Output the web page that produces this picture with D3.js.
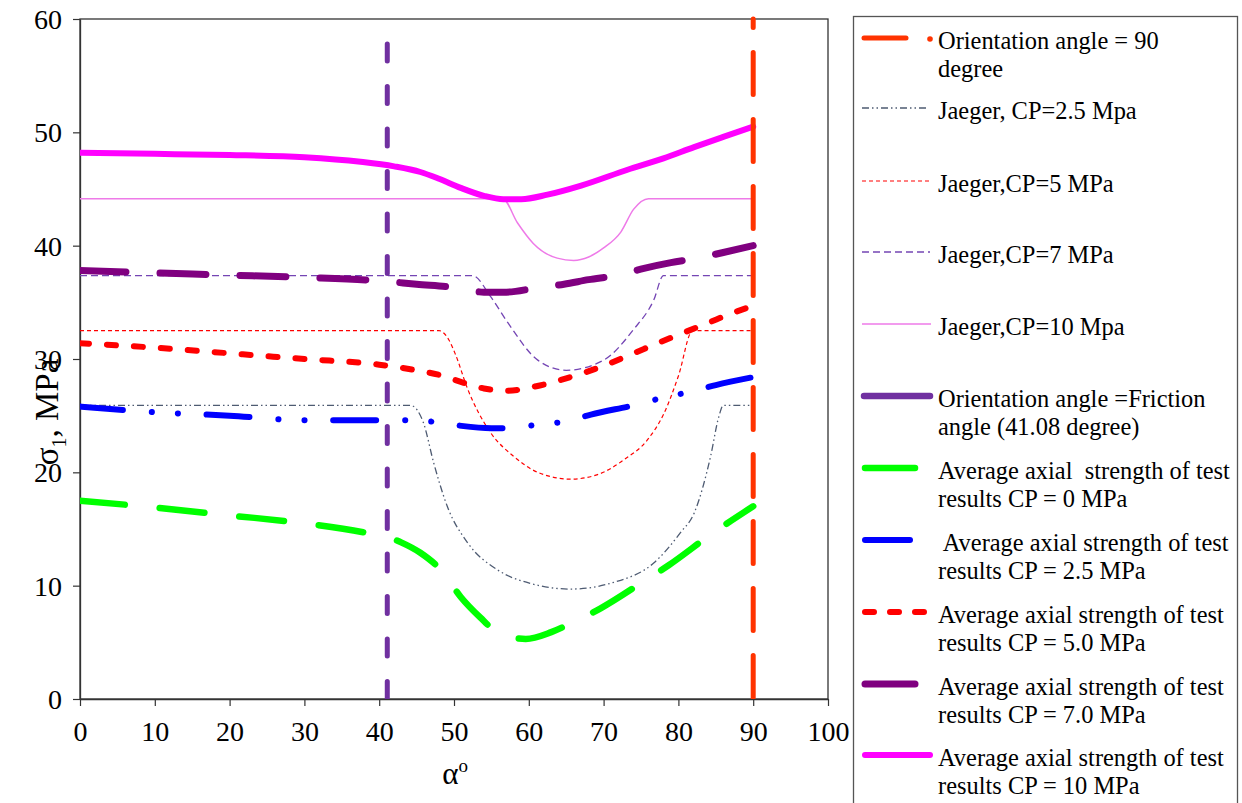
<!DOCTYPE html>
<html>
<head>
<meta charset="utf-8">
<script src="https://cdn.jsdelivr.net/npm/d3@7/dist/d3.min.js"></script>
<style>
  body { margin: 0; background: #fff; }
  svg { display: block; font-family: "Liberation Serif", "Times New Roman", serif; }
  .leg { font-size: 26px; white-space: pre; }
</style>
</head>
<body>
<div id="chart"></div>
<script>
'use strict';

// axis ticks
var xTickValues = [0, 10, 20, 30, 40, 50, 60, 70, 80, 90, 100];
var yTickValues = [0, 10, 20, 30, 40, 50, 60];

// vertical reference lines (degree)
var frictionAngle = 41.08;
var orientationAngle = 90;

// average axial strength of test results  [alpha, sigma1]
var avgCP0 = [[0,17.5],[10,16.9],[20,16.2],[30,15.5],[38,14.7],[41,14.3],[43,13.8],[45.5,12.9],[48.5,11.2],[50.9,9.0],[53.5,7.2],[55.8,5.9],[59.6,5.3],[63,5.9],[66,6.8],[69.6,8.0],[75.4,10.4],[78.7,11.8],[84.3,14.5],[90,17.0]];
var avgCP25 = [[0,25.8],[10,25.3],[20,25.0],[30,24.6],[40,24.6],[44,24.6],[48,24.4],[51,24.1],[55,23.9],[58,23.9],[61,24.2],[65,24.5],[68.3,25.1],[74.6,26.0],[78,26.6],[81.5,27.1],[85,27.7],[90,28.4]];
var avgCP5 = [[0,31.4],[10,31.0],[20,30.5],[30,30.0],[40,29.5],[45,29.0],[48,28.6],[51.3,27.9],[54,27.4],[57,27.2],[61,27.6],[65,28.3],[70,29.4],[74,30.5],[77.6,31.5],[81,32.4],[84,33.2],[87.4,34.1],[90,34.7]];
var avgCP7 = [[0,37.8],[10,37.6],[20,37.4],[30,37.2],[40,36.9],[45,36.6],[50.2,36.3],[54,35.9],[57,35.9],[61.2,36.3],[64.7,36.6],[68,37.0],[71.9,37.4],[75.4,38.0],[79,38.5],[82.6,38.9],[86,39.4],[90,40.0]];
var avgCP10 = [[0,48.2],[10,48.1],[20,48.0],[30,47.8],[37.5,47.4],[42,47.0],[45.5,46.5],[48,45.9],[50.9,45.1],[54,44.4],[56.6,44.1],[59,44.1],[62.5,44.5],[67,45.3],[73.2,46.7],[78,47.7],[82.1,48.7],[86,49.6],[90,50.5]];

// Jaeger single plane of weakness  [alpha, sigma1]
var jaegerCP25 = [[0,25.9],[44.2,25.9],[45.9,24.4],[47.3,20.8],[49.1,17.0],[51.8,13.8],[55.8,11.4],[60.2,10.2],[65.6,9.7],[71.4,10.3],[76.7,12.0],[80.3,14.7],[82.1,16.4],[84.3,21.4],[85.4,24.9],[86,25.9],[90,25.9]];
var jaegerCP5 = [[0,32.5],[48,32.5],[49.3,31.7],[50.2,30.4],[51.8,27.4],[54.9,23.5],[58,21.4],[61.2,20.0],[65.6,19.4],[69.2,19.8],[72.7,21.1],[75.9,22.9],[78,25.1],[80,28.5],[81.9,32.5],[90,32.5]];
var jaegerCP7 = [[0,37.35],[52.5,37.35],[54.9,35.5],[57.2,33.2],[61.2,29.9],[65,29.0],[70,29.9],[74,32.6],[76.7,35.2],[78,37.35],[90,37.35]];
var jaegerCP10 = [[0,44.15],[56.5,44.15],[58.5,42.0],[60.6,40.2],[63.8,38.9],[66,38.7],[68,39.0],[70,39.8],[72.3,41.2],[74,43.2],[76,44.15],[90,44.15]];

var width = 1242, height = 803;
var plot = {left: 80, top: 19, right: 828, bottom: 699};

var svg = d3.select('#chart').append('svg')
  .attr('width', width)
  .attr('height', height);

var x = d3.scaleLinear().domain([0, 100]).range([plot.left, plot.right]);
var y = d3.scaleLinear().domain([0, 60]).range([plot.bottom, plot.top]);

svg.append('clipPath').attr('id', 'clip')
  .append('rect')
  .attr('x', plot.left).attr('y', plot.top - 4)
  .attr('width', plot.right - plot.left).attr('height', plot.bottom - plot.top + 4);

// plot frame
svg.append('rect')
  .attr('x', plot.left).attr('y', plot.top)
  .attr('width', plot.right - plot.left).attr('height', plot.bottom - plot.top)
  .attr('fill', 'none').attr('stroke', '#333').attr('stroke-width', 1.3);

var xAxis = svg.append('g')
  .attr('transform', 'translate(0,' + plot.bottom + ')')
  .call(d3.axisBottom(x).tickValues(xTickValues).tickSize(7).tickSizeOuter(0).tickPadding(15));
var yAxis = svg.append('g')
  .attr('transform', 'translate(' + plot.left + ',0)')
  .call(d3.axisLeft(y).tickValues(yTickValues).tickSize(7).tickSizeOuter(0).tickPadding(11));
[xAxis, yAxis].forEach(function (a) {
  a.attr('font-family', null).attr('font-size', null);
  a.select('.domain').attr('stroke', '#333').attr('stroke-width', 1.3);
  a.selectAll('.tick line').attr('stroke', '#333').attr('stroke-width', 1.2);
  a.selectAll('.tick text')
    .style('font-family', '"Liberation Serif", serif')
    .style('font-size', '28px')
    .attr('fill', '#000');
});
yAxis.selectAll('.tick text').attr('dy', '0.34em');

var line = d3.line()
  .x(function (d) { return x(d[0]); })
  .y(function (d) { return y(d[1]); })
  .curve(d3.curveMonotoneX);

var series = [
  {data: jaegerCP25, color: '#4E5B72', w: 1.3, dash: '7,3,1.5,3,1.5,3', cap: 'butt'},
  {data: jaegerCP5, color: '#FF0000', w: 1.2, dash: '4,3', cap: 'butt'},
  {data: jaegerCP7, color: '#7445B4', w: 1.3, dash: '7,4', cap: 'butt'},
  {data: jaegerCP10, color: '#EE7AE8', w: 1.5, dash: null, cap: 'butt'},
  {data: avgCP0, color: '#00FF00', w: 6.5, dash: '45,35', cap: 'round'},
  {data: avgCP25, color: '#0000FF', w: 6, dash: '43,29,0.1,26,0.1,28.6', cap: 'round'},
  {data: avgCP5, color: '#FF0000', w: 6, dash: '9,18', cap: 'round'},
  {data: avgCP7, color: '#800080', w: 7, dash: '46,34', cap: 'round'},
  {data: avgCP10, color: '#FF00FF', w: 6, dash: null, cap: 'round'}
];

var g = svg.append('g').attr('clip-path', 'url(#clip)');

g.selectAll('path.series')
  .data(series)
  .enter().append('path')
  .attr('class', 'series')
  .attr('d', function (d) { return line(d.data); })
  .attr('fill', 'none')
  .attr('stroke', function (d) { return d.color; })
  .attr('stroke-width', function (d) { return d.w; })
  .attr('stroke-dasharray', function (d) { return d.dash; })
  .attr('stroke-linecap', function (d) { return d.cap; })
  .attr('stroke-linejoin', 'round');

// vertical lines at friction angle and 90 degree
var vlines = [
  {a: frictionAngle, color: '#7030A0', dash: '17,25.5', offset: 17.5},
  {a: orientationAngle, color: '#FF3300', dash: '42,25', offset: 33.5}
];
g.selectAll('line.vline')
  .data(vlines)
  .enter().append('line')
  .attr('class', 'vline')
  .attr('x1', function (d) { return x(d.a); })
  .attr('x2', function (d) { return x(d.a); })
  .attr('y1', y(60)).attr('y2', y(0))
  .attr('stroke', function (d) { return d.color; })
  .attr('stroke-width', 5)
  .attr('stroke-linecap', 'round')
  .attr('stroke-dasharray', function (d) { return d.dash; })
  .attr('stroke-dashoffset', function (d) { return d.offset; });

// axis titles
svg.append('text')
  .attr('x', 455).attr('y', 784)
  .attr('text-anchor', 'middle')
  .style('font-size', '31px')
  .html('α<tspan dy="-12" font-size="19px">o</tspan>');

svg.append('text')
  .attr('transform', 'translate(58,412) rotate(-90)')
  .attr('text-anchor', 'middle')
  .style('font-size', '33px')
  .html('σ<tspan dy="8" font-size="20px">1</tspan><tspan dy="-8">, MPa</tspan>');

// legend
var legX = 853.5, legTextX = 938;
svg.append('rect')
  .attr('x', legX).attr('y', 16.5)
  .attr('width', 384).attr('height', 800)
  .attr('fill', '#fff').attr('stroke', '#555').attr('stroke-width', 1.3);

var legendItems = [
  {y: 40, lines: ['Orientation angle = 90', 'degree'], color: '#FF3300', w: 5, x1: 864, x2: 906, dash: null, cap: 'round', dot: true},
  {y: 110, lines: ['Jaeger, CP=2.5 Mpa'], color: '#4E5B72', w: 1.3, x1: 862, x2: 928, dash: '7,3,1.5,3,1.5,3', cap: 'butt'},
  {y: 183, lines: ['Jaeger,CP=5 MPa'], color: '#FF0000', w: 1.2, x1: 862, x2: 930, dash: '4,3', cap: 'butt'},
  {y: 254, lines: ['Jaeger,CP=7 MPa'], color: '#7445B4', w: 1.3, x1: 862, x2: 930, dash: '7,4', cap: 'butt'},
  {y: 326, lines: ['Jaeger,CP=10 Mpa'], color: '#EE7AE8', w: 1.5, x1: 862, x2: 931, dash: null, cap: 'butt'},
  {y: 398, lines: ['Orientation angle =Friction', 'angle (41.08 degree)'], color: '#7030A0', w: 6.5, x1: 864, x2: 930, dash: null, cap: 'round'},
  {y: 470, lines: ['Average axial  strength of test', 'results CP = 0 MPa'], color: '#00FF00', w: 6.5, x1: 865, x2: 915, dash: null, cap: 'round'},
  {y: 542, lines: [' Average axial strength of test', 'results CP = 2.5 MPa'], color: '#0000FF', w: 6, x1: 865, x2: 910, dash: null, cap: 'round'},
  {y: 614, lines: ['Average axial strength of test', 'results CP = 5.0 MPa'], color: '#FF0000', w: 6, x1: 865, x2: 930, dash: '9,16', cap: 'round'},
  {y: 686, lines: ['Average axial strength of test', 'results CP = 7.0 MPa'], color: '#800080', w: 7, x1: 865, x2: 915, dash: null, cap: 'round'},
  {y: 757, lines: ['Average axial strength of test', 'results CP = 10 MPa'], color: '#FF00FF', w: 6, x1: 865, x2: 930, dash: null, cap: 'round'}
];

var leg = svg.selectAll('g.legItem')
  .data(legendItems)
  .enter().append('g')
  .attr('class', 'legItem');

leg.append('line')
  .attr('x1', function (d) { return d.x1; })
  .attr('x2', function (d) { return d.x2; })
  .attr('y1', function (d) { return d.y - 2; })
  .attr('y2', function (d) { return d.y - 2; })
  .attr('stroke', function (d) { return d.color; })
  .attr('stroke-width', function (d) { return d.w; })
  .attr('stroke-linecap', function (d) { return d.cap; })
  .attr('stroke-dasharray', function (d) { return d.dash; });

leg.filter(function (d) { return d.dot; })
  .append('circle')
  .attr('cx', 930).attr('cy', function (d) { return d.y - 1; })
  .attr('r', 2.8)
  .attr('fill', function (d) { return d.color; });

// text is slightly condensed, as in the source figure
leg.each(function (d) {
  var t = d3.select(this).append('text')
    .attr('class', 'leg')
    .attr('transform', 'translate(' + legTextX + ',' + (d.y + 8.5) + ') scale(0.94,1)');
  d.lines.forEach(function (s, i) {
    t.append('tspan')
      .attr('x', 0)
      .attr('dy', i === 0 ? 0 : 28.5)
      .text(s);
  });
});
</script>
</body>
</html>
